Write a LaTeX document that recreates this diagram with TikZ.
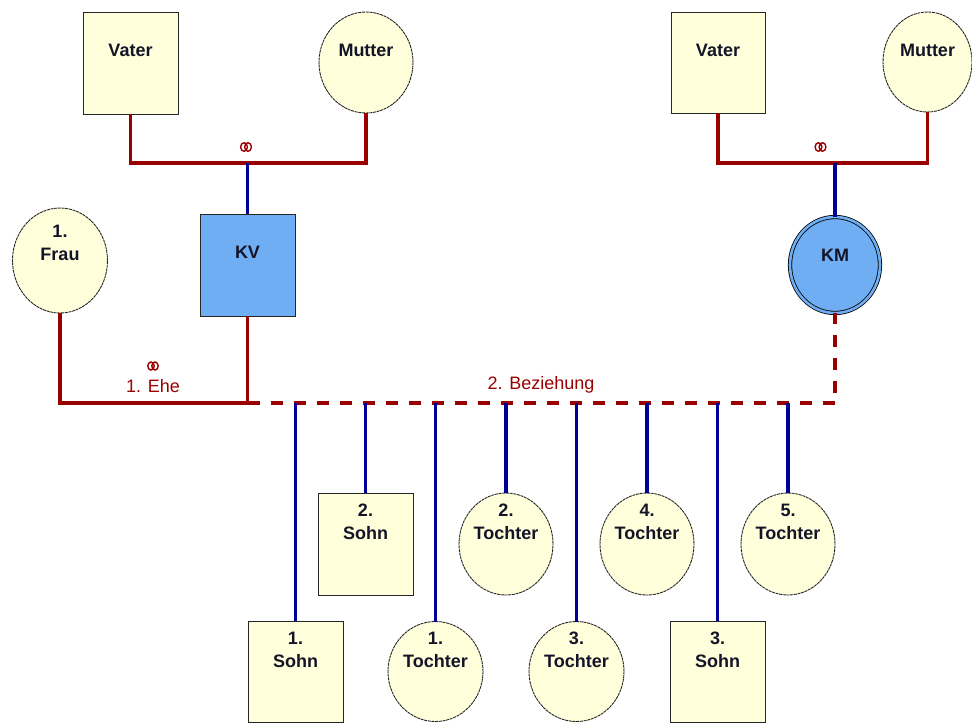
\documentclass[tikz,border=0pt]{standalone}
\usepackage{fontspec}
\setmainfont{Liberation Sans}
\usetikzlibrary{shapes.geometric}
\definecolor{cream}{HTML}{FFFFDC}
\definecolor{kvblue}{HTML}{6FAEF2}
\definecolor{relred}{HTML}{990000}
\definecolor{descblue}{HTML}{000099}
\definecolor{txt}{HTML}{141428}
\begin{document}
\begin{tikzpicture}[x=1pt,y=-1pt,
  person/.style={draw=black!85, line width=0.9pt, fill=cream, inner sep=0pt, outer sep=0pt},
  male/.style={person, rectangle, minimum width=95pt, minimum height=102pt},
  female/.style={person, ellipse, minimum width=94pt, minimum height=101pt, dash pattern=on 3pt off 0.7pt},
  lbl/.style={draw=none, fill=none, text=txt, font=\fontsize{18}{23}\selectfont\bfseries, align=center, inner sep=0pt, solid},
  name1/.style={label={[lbl, anchor=center, yshift=-38pt]north:{#1}}},
  name2/.style={label={[lbl, anchor=center, yshift=-28.5pt]north:{#1}}},
  rel/.style={relred, line width=3.2pt},
  reldash/.style={rel, dash pattern=on 12pt off 11pt},
  desc/.style={descblue, line width=3.2pt},
  reltext/.style={text=relred, font=\fontsize{18}{20}\selectfont, inner sep=0pt},
  ring/.style={relred, line width=1.4pt}
]
\useasboundingbox (0,0) rectangle (972,724);

% grandparents left
\node[male, name1=Vater] (vaterL) at (130.5,63) {};
\node[female, name1=Mutter] (mutterL) at (366,62.5) {};
% grandparents right
\node[male, minimum width=94pt, minimum height=101pt, name1=Vater] (vaterR) at (718,62.5) {};
\node[female, minimum width=89pt, minimum height=100pt, name1=Mutter] (mutterR) at (927.5,62) {};

% parents
\node[female, minimum width=95pt, minimum height=105pt, label={[lbl, anchor=center, yshift=-35pt]north:{1.\\Frau}}] (frau) at (60,260.5) {};
\node[male, fill=kvblue, name1=KV] (kv) at (247.5,265) {};
\node[person, ellipse, fill=kvblue, draw=black, line width=0.8pt, double=kvblue, double distance=2.6pt,
      minimum width=90pt, minimum height=96pt, name1=KM] (km) at (835,265) {};

% children upper row
\node[male, name2={2.\\Sohn}] (s2) at (365.5,544) {};
\node[female, minimum height=102pt, name2={2.\\Tochter}] (t2) at (506,544) {};
\node[female, minimum height=102pt, name2={4.\\Tochter}] (t4) at (647,544) {};
\node[female, minimum height=102pt, name2={5.\\Tochter}] (t5) at (788,544) {};
% children lower row
\node[male, minimum height=101pt, name2={1.\\Sohn}] (s1) at (295.5,671.5) {};
\node[female, minimum width=95pt, minimum height=100pt, name2={1.\\Tochter}] (t1) at (435.5,671.5) {};
\node[female, minimum width=95pt, minimum height=100pt, name2={3.\\Tochter}] (t3) at (576.5,671.5) {};
\node[male, minimum height=101pt, name2={3.\\Sohn}] (s3) at (717.5,671.5) {};

% junctions
\coordinate (mL) at (kv.north |- 0,163);
\coordinate (mR) at (km.north |- 0,163);
\coordinate (eL) at (kv.south |- 0,403);

% relationships of grandparents
\draw[rel] (vaterL.south) |- (mL) -| (mutterL.south);
\draw[desc] (mL) -- (kv.north);
\draw[rel] (vaterR.south) |- (mR) -| (mutterR.south);
\draw[desc] (mR) -- (km.north);

% 1. Ehe
\draw[rel] (frau.south) |- (eL) -- (kv.south);
% 2. Beziehung
\draw[reldash] (eL) -| (km.south);

% children
\foreach \c in {s1,s2,t1,t2,t3,t4,s3,t5}{
  \draw[desc] (\c.north) -- (\c.north |- eL);
}

% marriage rings
\draw[ring] (244,147) ellipse (3.4pt and 4.3pt) (248,147) ellipse (3.4pt and 4.3pt);
\draw[ring] (818.5,147) ellipse (3.4pt and 4.3pt) (822.5,147) ellipse (3.4pt and 4.3pt);
\draw[ring] (151,366) ellipse (3.2pt and 4pt) (155,366) ellipse (3.2pt and 4pt);

% relationship labels
\node[reltext] (ehe) at (153,386) {1. Ehe};
\node[reltext] (bez) at (541,385) {2. Beziehung};
\end{tikzpicture}
\end{document}
